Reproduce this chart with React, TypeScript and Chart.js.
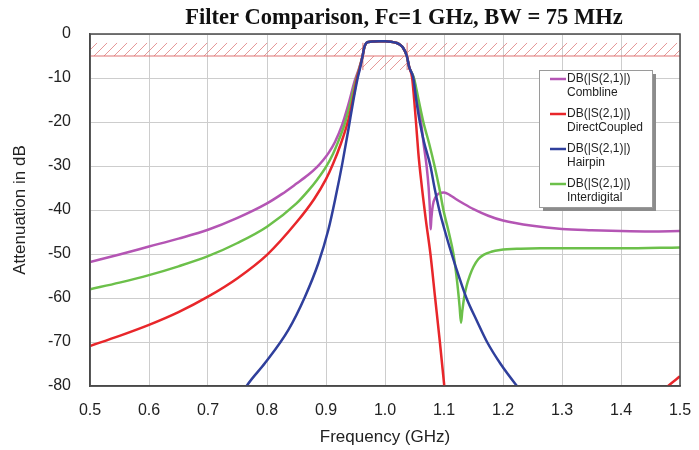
import { useEffect, useRef } from "react";
import { Chart, registerables } from "chart.js";

Chart.register(...registerables);

const TITLE = "Filter Comparison, Fc=1 GHz, BW = 75 MHz";
const X_TITLE = "Frequency (GHz)";
const Y_TITLE = "Attenuation in dB";
const LEGEND_HEAD = "DB(|S(2,1)|)";
const seriesNames = ["Combline", "DirectCoupled", "Hairpin", "Interdigital"];
const seriesColors = ["#b455b4", "#e8262a", "#2f3f9c", "#6cc04a"];

const xTickValues = [0.5, 0.6, 0.7, 0.8, 0.9, 1.0, 1.1, 1.2, 1.3, 1.4, 1.5];
const yTickValues = [0, -10, -20, -30, -40, -50, -60, -70, -80];

// passband shape shared by all filters
const passFreq = [0.965, 0.968, 0.972, 0.98, 0.99, 1.0, 1.01, 1.02, 1.025, 1.03];
const passDb = [-3.0, -2.1, -1.8, -1.7, -1.65, -1.65, -1.75, -2.05, -2.4, -3.0];

const combLowFreq = [0.5, 0.55, 0.6, 0.65, 0.7, 0.75, 0.8, 0.825, 0.85, 0.87, 0.885, 0.895, 0.905, 0.915, 0.927, 0.938, 0.949, 0.956, 0.962];
const combLowDb = [-51.8, -50.1, -48.3, -46.5, -44.5, -41.8, -38.5, -36.4, -34, -32, -30.2, -28.7, -26.9, -24.6, -20.8, -16, -10.5, -7.8, -5];
const combHighFreq = [1.037, 1.041, 1.0486, 1.055, 1.061, 1.0655, 1.0705, 1.074, 1.0765, 1.0774, 1.0785, 1.081, 1.086, 1.092, 1.1, 1.11, 1.12, 1.135, 1.15, 1.175, 1.2, 1.25, 1.3, 1.35, 1.4, 1.45, 1.5];
const combHighDb = [-5, -7.5, -10, -15, -20, -25, -30, -35, -41, -44.4, -42, -39, -37, -36.2, -36, -36.6, -37.5, -38.7, -39.8, -41.3, -42.4, -43.6, -44.3, -44.6, -44.8, -44.9, -44.8];

const dcLowFreq = [0.5, 0.55, 0.6, 0.65, 0.7, 0.75, 0.8, 0.85, 0.88, 0.9, 0.912, 0.925, 0.938, 0.947, 0.9525, 0.957, 0.962];
const dcLowDb = [-70.9, -68.6, -66.1, -63.2, -59.7, -55.5, -50.2, -42.8, -37.5, -33, -29.5, -25, -19.5, -14, -10, -7.8, -5];
const dcHighFreq = [1.037, 1.041, 1.046, 1.0495, 1.0525, 1.0565, 1.061, 1.069, 1.077, 1.085, 1.093, 1.1005, 1.106, 1.3, 1.44, 1.48, 1.5];
const dcHighDb = [-5, -7.5, -10, -15, -20, -27, -33, -42, -50, -60, -70, -80, -88, -120, -86, -80, -77.8];

const hpLowFreq = [0.74, 0.7655, 0.7966, 0.836, 0.8644, 0.887, 0.904, 0.9164, 0.9277, 0.9378, 0.9465, 0.9537, 0.958, 0.962];
const hpLowDb = [-86, -80, -74.8, -67.3, -59.7, -52.1, -44.5, -37, -29.4, -21.8, -15, -10, -7.6, -5];
const hpHighFreq = [1.037, 1.041, 1.048, 1.053, 1.059, 1.066, 1.077, 1.084, 1.092, 1.102, 1.113, 1.125, 1.138, 1.155, 1.173, 1.196, 1.2237, 1.26];
const hpHighDb = [-5, -7.5, -10, -15, -20, -24.5, -30, -35, -40, -45, -50, -55, -60, -65, -70, -75, -80, -86];

const idLowFreq = [0.5, 0.55, 0.6, 0.65, 0.7, 0.75, 0.8, 0.85, 0.87, 0.885, 0.9, 0.912, 0.922, 0.932, 0.943, 0.951, 0.957, 0.962];
const idLowDb = [-58, -56.5, -54.8, -52.8, -50.5, -47.5, -43.8, -38.5, -35.6, -33.1, -30.2, -27.2, -24, -20.3, -14.8, -10.3, -7.6, -5];
const idHighFreq = [1.037, 1.041, 1.049, 1.057, 1.065, 1.075, 1.084, 1.092, 1.099, 1.108, 1.116, 1.122, 1.1265, 1.1288, 1.131, 1.134, 1.138, 1.144, 1.15, 1.158, 1.167, 1.18, 1.195, 1.23, 1.263, 1.3, 1.4, 1.5];
const idHighDb = [-5, -7.5, -10, -15, -20, -25, -30, -35, -40, -45, -50, -56, -62, -65.6, -63, -60, -57.4, -54.8, -52.9, -51.2, -50.2, -49.5, -49.1, -48.8, -48.7, -48.7, -48.7, -48.5];

// spec mask
const maskStopFreqs = [0.5, 0.9625, 1.0375, 1.5];
const maskTopDb = -2;
const maskLineDb = -5;
const maskPassBottomDb = -8.2;

function buildPoints(lf: number[], ld: number[], hf: number[], hd: number[]) {
  const pts: { x: number; y: number }[] = [];
  lf.forEach((f, i) => pts.push({ x: f, y: ld[i] }));
  passFreq.forEach((f, i) => pts.push({ x: f, y: passDb[i] }));
  hf.forEach((f, i) => pts.push({ x: f, y: hd[i] }));
  return pts;
}

const SANS = "'Liberation Sans', Arial, sans-serif";

export default function App() {
  const ref = useRef<HTMLCanvasElement | null>(null);

  useEffect(() => {
    document.body.style.margin = "0";
    const canvas = ref.current;
    if (!canvas) return;

    const dataSets = [
      buildPoints(combLowFreq, combLowDb, combHighFreq, combHighDb),
      buildPoints(dcLowFreq, dcLowDb, dcHighFreq, dcHighDb),
      buildPoints(hpLowFreq, hpLowDb, hpHighFreq, hpHighDb),
      buildPoints(idLowFreq, idLowDb, idHighFreq, idHighDb),
    ];
    const order = [2, 1, 3, 0];

    const maskPlugin = {
      id: "mask",
      beforeDatasetsDraw(chart: any) {
        const { ctx, chartArea, scales } = chart;
        const xs = scales.x;
        const ys = scales.y;
        const hatch = (fx0: number, fx1: number, dy0: number, dy1: number) => {
          const x0 = xs.getPixelForValue(fx0);
          const x1 = xs.getPixelForValue(fx1);
          const y0 = ys.getPixelForValue(dy0);
          const y1 = ys.getPixelForValue(dy1);
          ctx.save();
          ctx.beginPath();
          ctx.rect(x0, y0, x1 - x0, y1 - y0);
          ctx.clip();
          ctx.strokeStyle = "rgba(222,120,120,0.85)";
          ctx.lineWidth = 0.9;
          ctx.beginPath();
          const sp = 10;
          const cStart = Math.floor((x0 + y0) / sp) * sp;
          for (let c = cStart; c <= x1 + y1; c += sp) {
            ctx.moveTo(c - y1, y1);
            ctx.lineTo(c - y0, y0);
          }
          ctx.stroke();
          ctx.restore();
        };
        ctx.save();
        ctx.beginPath();
        ctx.rect(chartArea.left, chartArea.top, chartArea.right - chartArea.left, chartArea.bottom - chartArea.top);
        ctx.clip();
        hatch(maskStopFreqs[0], maskStopFreqs[1], maskTopDb, maskLineDb);
        hatch(maskStopFreqs[2], maskStopFreqs[3], maskTopDb, maskLineDb);
        hatch(maskStopFreqs[1], maskStopFreqs[2], maskLineDb, maskPassBottomDb);
        ctx.strokeStyle = "rgba(220,100,100,0.9)";
        ctx.lineWidth = 1;
        ctx.beginPath();
        const yl = ys.getPixelForValue(maskLineDb);
        ctx.moveTo(chartArea.left, yl);
        ctx.lineTo(chartArea.right, yl);
        [maskStopFreqs[1], maskStopFreqs[2]].forEach((f) => {
          const xp = xs.getPixelForValue(f);
          ctx.moveTo(xp, ys.getPixelForValue(maskTopDb));
          ctx.lineTo(xp, ys.getPixelForValue(maskPassBottomDb));
        });
        ctx.stroke();
        ctx.restore();
      },
      afterDraw(chart: any) {
        const { ctx, chartArea } = chart;
        ctx.save();
        // frame
        ctx.strokeStyle = "#4a4a4a";
        ctx.lineWidth = 1.5;
        ctx.strokeRect(chartArea.left, chartArea.top, chartArea.right - chartArea.left, chartArea.bottom - chartArea.top);
        // title
        ctx.fillStyle = "#111";
        ctx.font = "bold 22.5px 'Liberation Serif', 'Times New Roman', serif";
        ctx.textAlign = "center";
        ctx.textBaseline = "alphabetic";
        ctx.fillText(TITLE, 404, 24);
        // legend
        ctx.textAlign = "left";
        const lx = 539, ly = 70, lw = 113, lh = 137;
        ctx.fillStyle = "#8c8c8c";
        ctx.fillRect(lx + 4, ly + 4, lw, lh);
        ctx.fillStyle = "#ffffff";
        ctx.fillRect(lx, ly, lw, lh);
        ctx.strokeStyle = "#9a9a9a";
        ctx.lineWidth = 1;
        ctx.strokeRect(lx + 0.5, ly + 0.5, lw, lh);
        ctx.font = "12px " + SANS;
        ctx.textBaseline = "middle";
        seriesNames.forEach((name, i) => {
          const cy = 79 + i * 35;
          ctx.strokeStyle = seriesColors[i];
          ctx.lineWidth = 2.5;
          ctx.beginPath();
          ctx.moveTo(550, cy);
          ctx.lineTo(566, cy);
          ctx.stroke();
          ctx.fillStyle = "#222";
          ctx.fillText(LEGEND_HEAD, 567, cy);
          ctx.fillText(name, 567, cy + 14);
        });
        ctx.restore();
      },
    };

    const chart = new Chart(canvas, {
      type: "scatter",
      data: {
        datasets: order.map((i) => ({
          label: seriesNames[i],
          data: dataSets[i],
          showLine: true,
          borderColor: seriesColors[i],
          backgroundColor: seriesColors[i],
          borderWidth: 2.5,
          pointRadius: 0,
          pointHoverRadius: 0,
          cubicInterpolationMode: "monotone" as const,
          fill: false,
        })),
      },
      options: {
        responsive: false,
        animation: false,
        layout: { padding: { top: 34, right: 19, left: 0, bottom: 0 } },
        plugins: {
          legend: { display: false },
          title: { display: false },
          tooltip: { enabled: false },
        },
        scales: {
          x: {
            type: "linear",
            min: 0.5,
            max: 1.5,
            afterBuildTicks: (s: any) => {
              s.ticks = xTickValues.map((v) => ({ value: v }));
            },
            afterFit: (s: any) => {
              s.height = 64;
              s.paddingLeft = 0;
              s.paddingRight = 0;
            },
            ticks: {
              callback: (v: any) => Number(v).toFixed(1),
              font: { family: SANS, size: 16 },
              color: "#222",
              padding: 15,
              maxRotation: 0,
              autoSkip: false,
            },
            grid: { color: "#cdcdcd", lineWidth: 1, drawTicks: false },
            border: { display: true, color: "#4a4a4a", width: 1.5 },
            title: {
              display: true,
              text: X_TITLE,
              font: { family: SANS, size: 17 },
              color: "#222",
              padding: { top: 0, bottom: 2 },
            },
          },
          y: {
            type: "linear",
            min: -80,
            max: 0,
            afterBuildTicks: (s: any) => {
              s.ticks = yTickValues.map((v) => ({ value: v }));
            },
            afterFit: (s: any) => {
              s.width = 90;
            },
            ticks: {
              callback: (v: any) => String(v),
              font: { family: SANS, size: 16 },
              color: "#222",
              padding: 19,
              autoSkip: false,
            },
            grid: { color: "#cdcdcd", lineWidth: 1, drawTicks: false },
            border: { display: true, color: "#4a4a4a", width: 1.5 },
            title: {
              display: true,
              text: Y_TITLE,
              font: { family: SANS, size: 17 },
              color: "#222",
              padding: { top: 10, bottom: 0 },
            },
          },
        },
      },
      plugins: [maskPlugin],
    });

    return () => chart.destroy();
  }, []);

  return <canvas ref={ref} width={699} height={450} style={{ display: "block" }} />;
}
